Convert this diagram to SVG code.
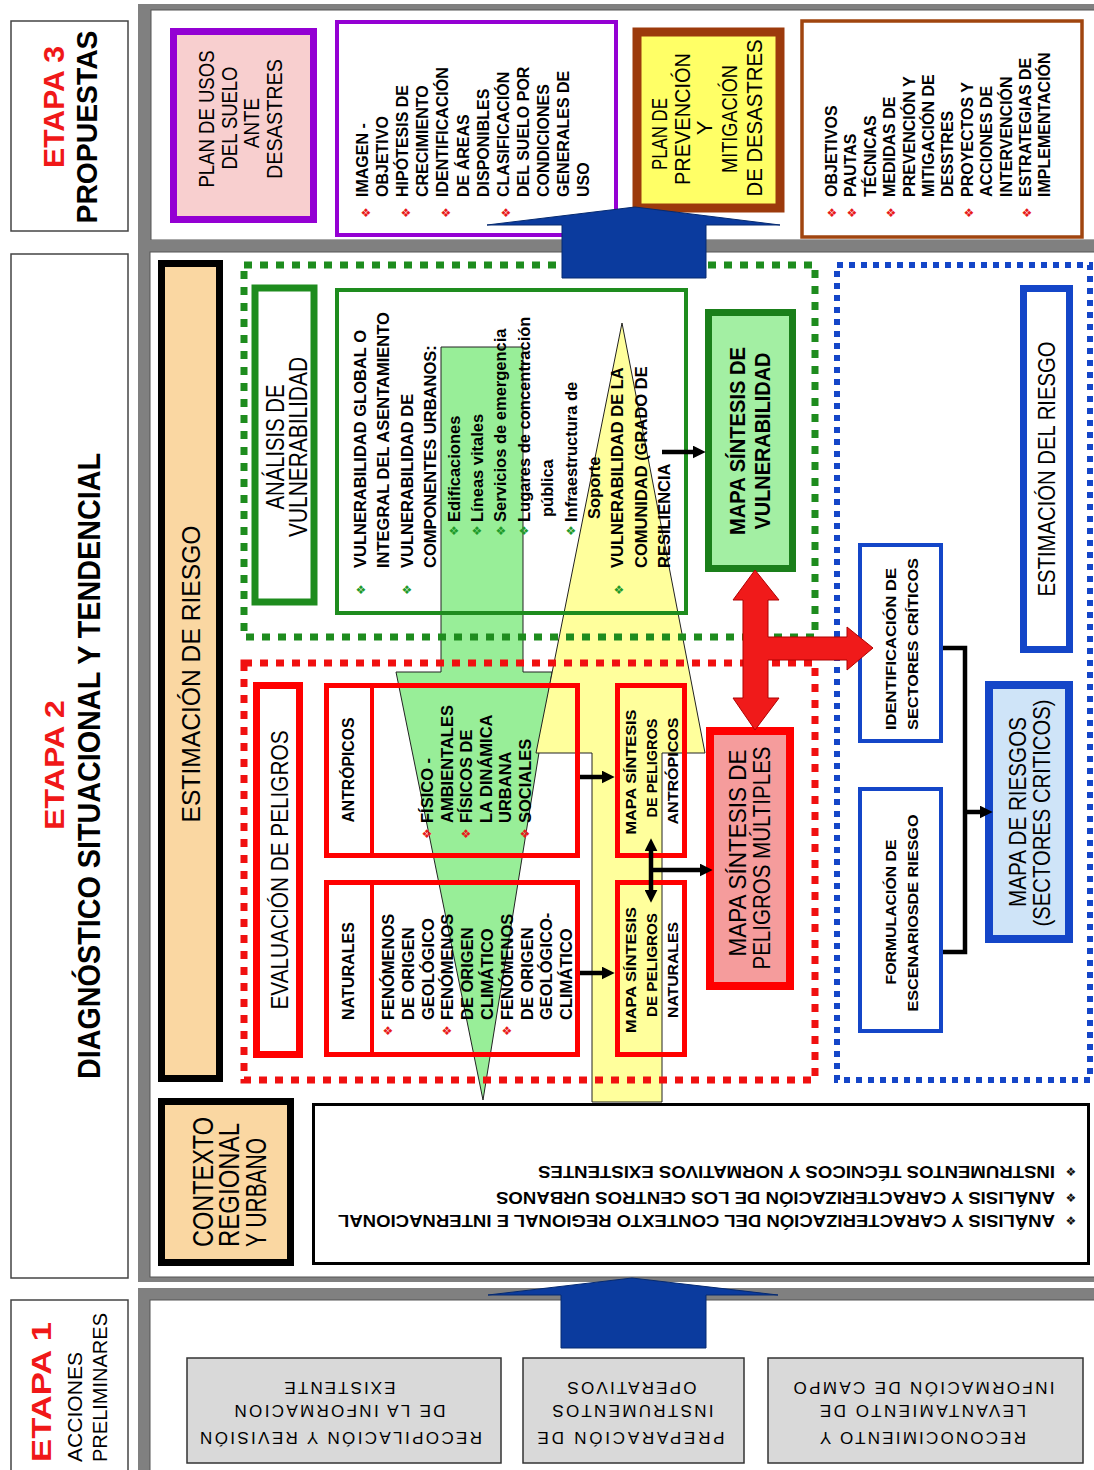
<svg xmlns="http://www.w3.org/2000/svg" width="1094" height="1470" viewBox="0 0 1094 1470">
<defs>
<style>
text{font-family:"Liberation Sans",Arial,Helvetica,sans-serif;fill:#000;}
.b{font-weight:bold;}
.et{font-weight:bold;fill:#F01818;}
.m{text-anchor:middle;}
.bul{font-family:"DejaVu Sans",sans-serif;font-size:12px;text-anchor:middle;dominant-baseline:central;}
.br{fill:#E81A1A;}
.bg{fill:#1E9A2A;}
.bk{fill:#111;}
.lab{fill:#fff;stroke:#444;stroke-width:1.5;}
.gray{fill:#808080;}
.panel{fill:#fff;stroke:#555;stroke-width:1;}
.dotg{fill:none;stroke:#1E8C1E;stroke-width:7;stroke-dasharray:8 8;}
.dotr{fill:none;stroke:#F01010;stroke-width:7;stroke-dasharray:8 8;}
.dotb{fill:none;stroke:#1446C8;stroke-width:6;stroke-dasharray:6 6;}
.peach{fill:#FAD7A2;stroke:#000;stroke-width:7;}
.rbox{fill:none;stroke:#FF0000;stroke-width:5;}
.bbox{fill:#fff;stroke:#1446C8;stroke-width:4;}
.gbox{fill:#D9D9D9;stroke:#333;stroke-width:1.5;}
.arr{stroke:#000;stroke-width:4.5;fill:none;}
.blue{fill:#0B3B9E;stroke:#062a70;stroke-width:1;}
</style>
<marker id="ah" viewBox="0 0 10 10" refX="1" refY="5" markerWidth="13" markerHeight="13" markerUnits="userSpaceOnUse" orient="auto-start-reverse"><path d="M0,0 L10,5 L0,10 z" fill="#000"/></marker>
</defs>
<rect x="0" y="0" width="1094" height="1470" fill="#fff"/>

<!-- panels -->
<g id="panels">
<rect class="gray" x="138" y="4" width="956" height="246"/>
<rect class="panel" x="151" y="10" width="950" height="230"/>
<rect class="gray" x="138" y="240" width="956" height="1042"/>
<rect class="panel" x="150" y="252" width="950" height="1025"/>
<rect class="gray" x="138" y="1288" width="956" height="190"/>
<rect class="panel" x="150" y="1300" width="950" height="180"/>
</g>

<!-- stage labels -->
<g id="etapa3-label">
<rect class="lab" x="11" y="21" width="117" height="210"/>
<text class="et m" font-size="30" transform="rotate(-90)" x="-107" y="64" textLength="122" lengthAdjust="spacingAndGlyphs">ETAPA 3</text>
<text class="b m" font-size="30" transform="rotate(-90)" x="-127" y="97" textLength="193" lengthAdjust="spacingAndGlyphs">PROPUESTAS</text>
</g>
<g id="etapa2-label">
<rect class="lab" x="11" y="254" width="117" height="1024"/>
<text class="et m" font-size="28" transform="rotate(-90)" x="-765" y="64" textLength="130" lengthAdjust="spacingAndGlyphs">ETAPA 2</text>
<text class="b m" font-size="32" transform="rotate(-90)" x="-766" y="100" textLength="626" lengthAdjust="spacingAndGlyphs">DIAGNÓSTICO SITUACIONAL Y TENDENCIAL</text>
</g>
<g id="etapa1-label">
<rect class="lab" x="11" y="1300" width="117" height="180"/>
<text class="et" font-size="27" transform="rotate(-90)" x="-1462" y="51" textLength="140" lengthAdjust="spacingAndGlyphs">ETAPA 1</text>
<text font-size="21" transform="rotate(-90)" x="-1462" y="82" textLength="110" lengthAdjust="spacingAndGlyphs">ACCIONES</text>
<text font-size="21" transform="rotate(-90)" x="-1462" y="107" textLength="149" lengthAdjust="spacingAndGlyphs">PRELIMINARES</text>
</g>

<!-- flow shapes (green / yellow) -->
<g id="flow-shapes">
<path d="M441,347 H523 V672 H552 L483,1100 L396,672 H441 Z" fill="#98EE98" stroke="#222" stroke-width="1"/>
<path d="M622,323 L705,753 H662 V1102 H592 V753 H536 Z" fill="#FFFF9C" stroke="#222" stroke-width="1"/>
</g>

<!-- zones -->
<g id="zones">
<rect class="dotg" x="244" y="265" width="571" height="372"/>
<rect class="dotr" x="244" y="663" width="571" height="417"/>
<rect class="dotb" x="837" y="265" width="253" height="815"/>
</g>

<!-- Etapa 3 nodes -->
<g id="plan-usos-suelo">
<rect x="173.5" y="31.5" width="140" height="188" fill="#F8CFCF" stroke="#9400D3" stroke-width="7"/>
<text class="m" font-size="22" transform="rotate(-90)" x="-119" y="214" textLength="137" lengthAdjust="spacingAndGlyphs">PLAN DE USOS</text>
<text class="m" font-size="22" transform="rotate(-90)" x="-118" y="237" textLength="103" lengthAdjust="spacingAndGlyphs">DEL SUELO</text>
<text class="m" font-size="22" transform="rotate(-90)" x="-123" y="259" textLength="50" lengthAdjust="spacingAndGlyphs">ANTE</text>
<text class="m" font-size="22" transform="rotate(-90)" x="-119" y="282" textLength="120" lengthAdjust="spacingAndGlyphs">DESASTRES</text>
</g>
<g id="lista-usos">
<rect x="337" y="22" width="279" height="213" fill="#fff" stroke="#9400D3" stroke-width="4"/>
<text class="b" font-size="16" transform="rotate(-90)">
<tspan x="-197" y="368">IMAGEN -</tspan>
<tspan x="-197" y="388.1">OBJETIVO</tspan>
<tspan x="-197" y="408.2">HIPÓTESIS DE</tspan>
<tspan x="-197" y="428.3">CRECIMIENTO</tspan>
<tspan x="-197" y="448.4">IDENTIFICACIÓN</tspan>
<tspan x="-197" y="468.5">DE ÁREAS</tspan>
<tspan x="-197" y="488.6">DISPONIBLES</tspan>
<tspan x="-197" y="508.7">CLASIFICACIÓN</tspan>
<tspan x="-197" y="528.8">DEL SUELO POR</tspan>
<tspan x="-197" y="548.9">CONDICIONES</tspan>
<tspan x="-197" y="569">GENERALES DE</tspan>
<tspan x="-197" y="589.1">USO</tspan>
</text>
<text class="bul br" x="366" y="213">❖</text>
<text class="bul br" x="406" y="213">❖</text>
<text class="bul br" x="446" y="213">❖</text>
<text class="bul br" x="506" y="213">❖</text>
</g>
<g id="plan-prevencion">
<rect x="637" y="32" width="143" height="176" fill="#FFFF66" stroke="#9C3A0C" stroke-width="9"/>
<text class="m" font-size="22" transform="rotate(-90)" x="-134" y="667" textLength="72" lengthAdjust="spacingAndGlyphs">PLAN DE</text>
<text class="m" font-size="22" transform="rotate(-90)" x="-119" y="690" textLength="132" lengthAdjust="spacingAndGlyphs">PREVENCIÓN</text>
<text class="m" font-size="22" transform="rotate(-90)" x="-128" y="712">Y</text>
<text class="m" font-size="22" transform="rotate(-90)" x="-119" y="737" textLength="108" lengthAdjust="spacingAndGlyphs">MITIGACIÓN</text>
<text class="m" font-size="22" transform="rotate(-90)" x="-118" y="762" textLength="157" lengthAdjust="spacingAndGlyphs">DE DESASTRES</text>
</g>
<g id="lista-prevencion">
<rect x="802" y="21" width="280" height="216" fill="#fff" stroke="#A0450F" stroke-width="3.5"/>
<text class="b" font-size="16" transform="rotate(-90)">
<tspan x="-197" y="837">OBJETIVOS</tspan>
<tspan x="-197" y="856.4">PAUTAS</tspan>
<tspan x="-197" y="875.8">TÉCNICAS</tspan>
<tspan x="-197" y="895.2">MEDIDAS DE</tspan>
<tspan x="-197" y="914.6">PREVENCIÓN Y</tspan>
<tspan x="-197" y="934">MITIGACIÓN DE</tspan>
<tspan x="-197" y="953.4">DESSTRES</tspan>
<tspan x="-197" y="972.8">PROYECTOS Y</tspan>
<tspan x="-197" y="992.2">ACCIONES DE</tspan>
<tspan x="-197" y="1011.6">INTERVENCIÓN</tspan>
<tspan x="-197" y="1031">ESTRATEGIAS DE</tspan>
<tspan x="-197" y="1050.4">IMPLEMENTACIÓN</tspan>
</text>
<text class="bul br" x="832" y="213">❖</text>
<text class="bul br" x="852" y="213">❖</text>
<text class="bul br" x="891" y="213">❖</text>
<text class="bul br" x="969" y="213">❖</text>
<text class="bul br" x="1027" y="213">❖</text>
</g>

<!-- Etapa 2 nodes -->
<g id="estimacion-de-riesgo">
<rect class="peach" x="161.5" y="263.5" width="58" height="815"/>
<text class="m" font-size="25" transform="rotate(-90)" x="-674" y="200" textLength="297" lengthAdjust="spacingAndGlyphs">ESTIMACIÓN DE RIESGO</text>
</g>
<g id="contexto-label">
<rect class="peach" x="161.5" y="1101.5" width="129" height="161"/>
<text font-size="30" transform="rotate(-90)" x="-1247" y="213" textLength="130" lengthAdjust="spacingAndGlyphs">CONTEXTO</text>
<text font-size="30" transform="rotate(-90)" x="-1247" y="239" textLength="124" lengthAdjust="spacingAndGlyphs">REGIONAL</text>
<text font-size="30" transform="rotate(-90)" x="-1247" y="266" textLength="109" lengthAdjust="spacingAndGlyphs">Y URBANO</text>
</g>
<g id="contexto-lista">
<rect x="313.5" y="1104.5" width="775" height="159" fill="#fff" stroke="#000" stroke-width="3"/>
<text class="b" font-size="16.5" transform="rotate(180)" x="-1055" y="-1215" textLength="717" lengthAdjust="spacingAndGlyphs">ANÁLISIS Y CARACTERIZACIÓN DEL CONTEXTO REGIONAL E INTERNACIONAL</text>
<text class="b" font-size="16.5" transform="rotate(180)" x="-1055" y="-1192" textLength="559" lengthAdjust="spacingAndGlyphs">ANÁLISIS Y CARACTERIZACIÓN DE LOS CENTROS URBANOS</text>
<text class="b" font-size="16.5" transform="rotate(180)" x="-1055" y="-1166" textLength="517" lengthAdjust="spacingAndGlyphs">INSTRUMENTOS TÉCNICOS Y NORMATIVOS EXISTENTES</text>
<text class="bul bk" x="1071" y="1221">❖</text>
<text class="bul bk" x="1071" y="1198">❖</text>
<text class="bul bk" x="1071" y="1172">❖</text>
</g>

<g id="analisis-vulnerabilidad">
<rect x="255" y="288" width="59" height="314" fill="#fff" stroke="#1E8C1E" stroke-width="7"/>
<text class="m" font-size="25" transform="rotate(-90)" x="-447" y="284" textLength="125" lengthAdjust="spacingAndGlyphs">ANÁLISIS DE</text>
<text class="m" font-size="25" transform="rotate(-90)" x="-447" y="307" textLength="180" lengthAdjust="spacingAndGlyphs">VULNERABILIDAD</text>
</g>
<g id="vulnerabilidad-lista">
<rect x="337" y="290" width="349" height="323" fill="none" stroke="#1E8C1E" stroke-width="4"/>
<text class="b" font-size="16.5" transform="rotate(-90)">
<tspan x="-568" y="366">VULNERABILIDAD GLOBAL O</tspan>
<tspan x="-568" y="389.4">INTEGRAL DEL ASENTAMIENTO</tspan>
<tspan x="-568" y="412.8">VULNERABILIDAD DE</tspan>
<tspan x="-568" y="436.2">COMPONENTES URBANOS:</tspan>
<tspan x="-522" y="459.6">Edificaciones</tspan>
<tspan x="-522" y="483">Líneas vitales</tspan>
<tspan x="-522" y="506.4">Servicios de emergencia</tspan>
<tspan x="-522" y="529.8">Lugares de concentración</tspan>
<tspan x="-517" y="553.2">pública</tspan>
<tspan x="-522" y="576.6">Infraestructura de</tspan>
<tspan x="-519" y="600">Soporte</tspan>
<tspan x="-568" y="623.4">VULNERABILIDAD DE LA</tspan>
<tspan x="-568" y="646.8">COMUNIDAD (GRADO DE</tspan>
<tspan x="-568" y="670.2">RESILIENCIA</tspan>
</text>
<text class="bul bg" x="361" y="590">❖</text>
<text class="bul bg" x="407" y="590">❖</text>
<text class="bul bg" x="619" y="590">❖</text>
<text class="bul bg" x="454" y="531">❖</text>
<text class="bul bg" x="477" y="531">❖</text>
<text class="bul bg" x="501" y="531">❖</text>
<text class="bul bg" x="524" y="531">❖</text>
<text class="bul bg" x="571" y="531">❖</text>
</g>
<g id="mapa-vulnerabilidad">
<rect x="708.5" y="312.5" width="84" height="256" fill="#A3EFA3" stroke="#1A7F1A" stroke-width="7"/>
<text class="b m" font-size="22" transform="rotate(-90)" x="-441" y="745" textLength="188" lengthAdjust="spacingAndGlyphs">MAPA SÍNTESIS DE</text>
<text class="b m" font-size="22" transform="rotate(-90)" x="-441" y="770" textLength="177" lengthAdjust="spacingAndGlyphs">VULNERABILIDAD</text>
</g>

<g id="evaluacion-peligros">
<rect x="256.5" y="685.5" width="43" height="369" fill="#fff" stroke="#FF0000" stroke-width="7"/>
<text class="m" font-size="24" transform="rotate(-90)" x="-870" y="288" textLength="279" lengthAdjust="spacingAndGlyphs">EVALUACIÓN DE PELIGROS</text>
</g>
<g id="peligros-antropicos">
<rect class="rbox" x="326.5" y="685.5" width="251" height="170"/>
<line x1="372" y1="685" x2="372" y2="856" stroke="#FF0000" stroke-width="4"/>
<text class="b m" font-size="16" transform="rotate(-90)" x="-770" y="354" textLength="105" lengthAdjust="spacingAndGlyphs">ANTRÓPICOS</text>
<text class="b" font-size="16.5" transform="rotate(-90)">
<tspan x="-823" y="433">FÍSICO -</tspan>
<tspan x="-823" y="452.5">AMBIENTALES</tspan>
<tspan x="-823" y="472">FÍSICOS DE</tspan>
<tspan x="-823" y="491.5">LA DINÁMICA</tspan>
<tspan x="-823" y="511">URBANA</tspan>
<tspan x="-823" y="530.5">SOCIALES</tspan>
</text>
<text class="bul br" x="427" y="834">❖</text>
<text class="bul br" x="466" y="834">❖</text>
<text class="bul br" x="525" y="834">❖</text>
</g>
<g id="peligros-naturales">
<rect class="rbox" x="326.5" y="882.5" width="251" height="172"/>
<line x1="372" y1="882" x2="372" y2="1055" stroke="#FF0000" stroke-width="4"/>
<text class="b m" font-size="16" transform="rotate(-90)" x="-971" y="354" textLength="98" lengthAdjust="spacingAndGlyphs">NATURALES</text>
<text class="b" font-size="16.5" transform="rotate(-90)">
<tspan x="-1020" y="394">FENÓMENOS</tspan>
<tspan x="-1020" y="413.8">DE ORIGEN</tspan>
<tspan x="-1020" y="433.6">GEOLÓGICO</tspan>
<tspan x="-1020" y="453.4">FENÓMENOS</tspan>
<tspan x="-1020" y="473.2">DE ORIGEN</tspan>
<tspan x="-1020" y="493">CLIMÁTICO</tspan>
<tspan x="-1020" y="512.8">FENÓMENOS</tspan>
<tspan x="-1020" y="532.6">DE ORIGEN</tspan>
<tspan x="-1020" y="552.4">GEOLÓGICO-</tspan>
<tspan x="-1020" y="572.2">CLIMÁTICO</tspan>
</text>
<text class="bul br" x="388" y="1031">❖</text>
<text class="bul br" x="447" y="1031">❖</text>
<text class="bul br" x="507" y="1031">❖</text>
</g>
<g id="mapa-peligros-antropicos">
<rect class="rbox" x="617.5" y="685.5" width="67" height="170"/>
<text class="b m" font-size="15" transform="rotate(-90)" x="-772" y="636" textLength="125" lengthAdjust="spacingAndGlyphs">MAPA SÍNTESIS</text>
<text class="b m" font-size="15" transform="rotate(-90)" x="-768" y="657" textLength="99" lengthAdjust="spacingAndGlyphs">DE PELIGROS</text>
<text class="b m" font-size="15" transform="rotate(-90)" x="-771" y="678" textLength="107" lengthAdjust="spacingAndGlyphs">ANTRÓPICOS</text>
</g>
<g id="mapa-peligros-naturales">
<rect class="rbox" x="617.5" y="882.5" width="67" height="172"/>
<text class="b m" font-size="15" transform="rotate(-90)" x="-970" y="636" textLength="126" lengthAdjust="spacingAndGlyphs">MAPA SÍNTESIS</text>
<text class="b m" font-size="15" transform="rotate(-90)" x="-965" y="657" textLength="104" lengthAdjust="spacingAndGlyphs">DE PELIGROS</text>
<text class="b m" font-size="15" transform="rotate(-90)" x="-970" y="678" textLength="96" lengthAdjust="spacingAndGlyphs">NATURALES</text>
</g>
<g id="mapa-peligros-multiples">
<rect x="710" y="731" width="80" height="255" fill="#F59C9C" stroke="#FF0000" stroke-width="8"/>
<text class="m" font-size="24" transform="rotate(-90)" x="-853" y="746" textLength="207" lengthAdjust="spacingAndGlyphs">MAPA  SÍNTESIS DE</text>
<text class="m" font-size="24" transform="rotate(-90)" x="-858" y="770" textLength="223" lengthAdjust="spacingAndGlyphs">PELIGROS MÚLTIPLES</text>
</g>

<g id="estimacion-del-riesgo">
<rect x="1023.5" y="288.5" width="46" height="361" fill="#fff" stroke="#1446C8" stroke-width="7"/>
<text class="m" font-size="24" transform="rotate(-90)" x="-469" y="1055" textLength="255" lengthAdjust="spacingAndGlyphs">ESTIMACIÓN DEL RIESGO</text>
</g>
<g id="identificacion-sectores">
<rect class="bbox" x="860" y="545" width="81" height="196"/>
<text class="b m" font-size="15.5" transform="rotate(-90)" x="-649" y="896" textLength="162" lengthAdjust="spacingAndGlyphs">IDENTIFICACIÓN DE</text>
<text class="b m" font-size="15.5" transform="rotate(-90)" x="-644" y="918" textLength="172" lengthAdjust="spacingAndGlyphs">SECTORES CRÍTICOS</text>
</g>
<g id="formulacion-escenarios">
<rect class="bbox" x="860" y="789" width="81" height="242"/>
<text class="b m" font-size="15.5" transform="rotate(-90)" x="-912" y="896" textLength="145" lengthAdjust="spacingAndGlyphs">FORMULACIÓN DE</text>
<text class="b m" font-size="15.5" transform="rotate(-90)" x="-913" y="918" textLength="197" lengthAdjust="spacingAndGlyphs">ESCENARIOSDE RIESGO</text>
</g>
<g id="mapa-riesgos">
<rect x="989" y="685" width="80" height="254" fill="#CFE4F8" stroke="#1446C8" stroke-width="8"/>
<text class="m" font-size="24" transform="rotate(-90)" x="-812" y="1026" textLength="190" lengthAdjust="spacingAndGlyphs">MAPA DE RIESGOS</text>
<text class="m" font-size="24" transform="rotate(-90)" x="-813" y="1050" textLength="227" lengthAdjust="spacingAndGlyphs">(SECTORES CRITICOS)</text>
</g>

<!-- Etapa 1 nodes -->
<g id="recopilacion">
<rect class="gbox" x="187" y="1358" width="314" height="105"/>
<text class="m" font-size="17" transform="rotate(180)" x="-341" y="-1432" textLength="282" lengthAdjust="spacing">RECOPILACIÓN Y REVISIÓN</text>
<text class="m" font-size="17" transform="rotate(180)" x="-340" y="-1405" textLength="211" lengthAdjust="spacing">DE LA INFORMACION</text>
<text class="m" font-size="17" transform="rotate(180)" x="-340" y="-1382" textLength="111" lengthAdjust="spacing">EXISTENTE</text>
</g>
<g id="preparacion">
<rect class="gbox" x="523" y="1358" width="221" height="105"/>
<text class="m" font-size="17" transform="rotate(180)" x="-631" y="-1432" textLength="187" lengthAdjust="spacing">PREPARACIÓN DE</text>
<text class="m" font-size="17" transform="rotate(180)" x="-633" y="-1405" textLength="161" lengthAdjust="spacing">INSTRUMENTOS</text>
<text class="m" font-size="17" transform="rotate(180)" x="-632" y="-1382" textLength="129" lengthAdjust="spacing">OPERATIVOS</text>
</g>
<g id="reconocimiento">
<rect class="gbox" x="768" y="1358" width="315" height="105"/>
<text class="m" font-size="17" transform="rotate(180)" x="-923" y="-1432" textLength="206" lengthAdjust="spacing">RECONOCIMIENTO Y</text>
<text class="m" font-size="17" transform="rotate(180)" x="-923" y="-1405" textLength="206" lengthAdjust="spacing">LEVANTAMIENTO DE</text>
<text class="m" font-size="17" transform="rotate(180)" x="-924" y="-1382" textLength="261" lengthAdjust="spacing">INFORMACIÓN DE CAMPO</text>
</g>

<!-- connectors -->
<g id="connectors">
<path class="blue" d="M562,278 V225 H487 L635,207 L780,225 H706 V278 Z"/>
<path class="blue" d="M561,1348 V1295 H488 L632,1278 L778,1295 H706 V1348 Z"/>
<path d="M755,570 L779,600 H768 V637 H847 V627 L873,648 L847,670 V660 H768 V698 H779 L755,730 L733,698 H743 V600 H733 Z" fill="#F01A1A" stroke="#B00000" stroke-width="1"/>
<line class="arr" x1="662" y1="452" x2="694" y2="452" marker-end="url(#ah)"/>
<line class="arr" x1="580" y1="777" x2="603" y2="777" marker-end="url(#ah)"/>
<line class="arr" x1="580" y1="973" x2="603" y2="973" marker-end="url(#ah)"/>
<line class="arr" x1="651" y1="850" x2="651" y2="891" marker-start="url(#ah)" marker-end="url(#ah)"/>
<line class="arr" x1="651" y1="870" x2="701" y2="870" marker-end="url(#ah)"/>
<path class="arr" d="M943,648 H965 V952 H943"/>
<line class="arr" x1="965" y1="812" x2="981" y2="812" marker-end="url(#ah)"/>
</g>
</svg>
